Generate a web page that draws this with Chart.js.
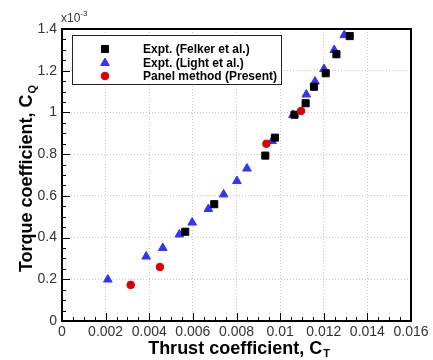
<!DOCTYPE html>
<html>
<head>
<meta charset="utf-8">
<script src="https://cdn.jsdelivr.net/npm/chart.js@4/dist/chart.umd.min.js"></script>
<style>
  html, body { margin: 0; padding: 0; background: #fff; }
  canvas { display: block; }
</style>
</head>
<body>
<canvas id="c" width="433" height="360"></canvas>
<script>
// ---- Data (CQ values in units of 1e-3) ----
const felkerCT = [0.00565, 0.00698, 0.00932, 0.00976, 0.01066, 0.01117, 0.01155, 0.01209, 0.01258, 0.01319];
const felkerCQ = [0.428, 0.560, 0.793, 0.879, 0.989, 1.044, 1.123, 1.188, 1.279, 1.366];

const lightCT = [0.00210, 0.00386, 0.00462, 0.00538, 0.00597, 0.00671, 0.00741, 0.00802, 0.00848, 0.00963, 0.01059, 0.01120, 0.01160, 0.01201, 0.01248, 0.01294];
const lightCQ = [0.199, 0.309, 0.350, 0.415, 0.472, 0.537, 0.607, 0.671, 0.731, 0.863, 0.988, 1.086, 1.148, 1.208, 1.299, 1.371];

const panelCT = [0.00315, 0.00449, 0.00937, 0.01096];
const panelCQ = [0.173, 0.259, 0.850, 1.007];

const seriesNames = ["Expt. (Felker et al.)", "Expt. (Light et al.)", "Panel method (Present)"];
const xTitle = "Thrust coefficient, C";
const xTitleSub = "T";
const yTitle = "Torque coefficient, C";
const yTitleSub = "Q";
const yMultiplier = "x10";
const yMultiplierExp = "-3";

const xMin = 0, xMax = 0.016, xStep = 0.002, xMinor = 0.0005;
const yMin = 0, yMax = 1.4, yStep = 0.2, yMinor = 0.05;

function pts(xs, ys) { return xs.map((x, i) => ({ x: x, y: ys[i] })); }
function fmt(v) { return String(parseFloat(Number(v).toFixed(6))); }

const FONT = "'Liberation Sans', Arial, sans-serif";

const frameAndExtras = {
  id: 'frameAndExtras',
  afterDraw(chart) {
    const ctx = chart.ctx;
    const a = chart.chartArea;
    const xs = chart.scales.x, ys = chart.scales.y;
    ctx.save();
    // inward ticks
    ctx.strokeStyle = '#000';
    ctx.lineWidth = 1;
    ctx.beginPath();
    const nX = Math.round((xMax - xMin) / xMinor);
    for (let i = 0; i <= nX; i++) {
      const v = xMin + i * xMinor;
      const px = Math.round(xs.getPixelForValue(v)) + 0.5;
      const major = (i % Math.round(xStep / xMinor)) === 0;
      const len = major ? 8 : 4;
      ctx.moveTo(px, a.bottom);
      ctx.lineTo(px, a.bottom - len);
    }
    const nY = Math.round((yMax - yMin) / yMinor);
    for (let i = 0; i <= nY; i++) {
      const v = yMin + i * yMinor;
      const py = Math.round(ys.getPixelForValue(v)) + 0.5;
      const major = (i % Math.round(yStep / yMinor)) === 0;
      const len = major ? 8 : 4;
      ctx.moveTo(a.left, py);
      ctx.lineTo(a.left + len, py);
    }
    ctx.stroke();
    // frame
    ctx.lineWidth = 2;
    ctx.strokeStyle = '#000';
    ctx.strokeRect(a.left, a.top, a.right - a.left, a.bottom - a.top);

    // multiplier label
    ctx.fillStyle = '#333';
    ctx.textBaseline = 'alphabetic';
    ctx.textAlign = 'left';
    ctx.font = '12px ' + FONT;
    ctx.fillText(yMultiplier, a.left - 1, 22);
    const mw = ctx.measureText(yMultiplier).width;
    ctx.font = '8px ' + FONT;
    ctx.fillText(yMultiplierExp, a.left - 1 + mw, 16);

    // x title
    ctx.fillStyle = '#000';
    ctx.font = 'bold 18px ' + FONT;
    const tw = ctx.measureText(xTitle).width;
    ctx.font = 'bold 11px ' + FONT;
    const sw = ctx.measureText(xTitleSub).width;
    const cx = (a.left + a.right) / 2 + 2;
    let sx = cx - (tw + sw) / 2;
    ctx.font = 'bold 18px ' + FONT;
    ctx.textBaseline = 'middle';
    ctx.fillText(xTitle, sx, 349);
    ctx.font = 'bold 11px ' + FONT;
    ctx.fillText(xTitleSub, sx + tw + 1, 354);

    // y title
    ctx.save();
    ctx.translate(27, (a.top + a.bottom) / 2 + 4);
    ctx.rotate(-Math.PI / 2);
    ctx.font = 'bold 18px ' + FONT;
    const yw = ctx.measureText(yTitle).width;
    ctx.font = 'bold 11px ' + FONT;
    const ysw = ctx.measureText(yTitleSub).width;
    let yx = -(yw + ysw) / 2;
    ctx.font = 'bold 18px ' + FONT;
    ctx.fillText(yTitle, yx, 0);
    ctx.font = 'bold 11px ' + FONT;
    ctx.fillText(yTitleSub, yx + yw + 1, 6);
    ctx.restore();

    // legend
    const lx = 72, ly = 35, lw = 209, lh = 49;
    ctx.fillStyle = '#fff';
    ctx.fillRect(lx, ly, lw, lh);
    ctx.lineWidth = 1;
    ctx.strokeStyle = '#222';
    ctx.strokeRect(lx + 0.5, ly + 0.5, lw, lh);
    const rows = [49, 63, 76];
    const dsOrder = [0, 1, 2];
    dsOrder.forEach((di, r) => {
      const ds = chart.data.datasets[di];
      const opts = {
        pointStyle: ds.pointStyle,
        radius: ds.pointRadius,
        rotation: 0,
        borderWidth: ds.borderWidth
      };
      ctx.fillStyle = ds.backgroundColor;
      ctx.strokeStyle = ds.borderColor;
      ctx.lineWidth = ds.borderWidth;
      Chart.helpers.drawPoint(ctx, opts, 105, rows[r]);
      ctx.fillStyle = '#000';
      ctx.font = 'bold 12px ' + FONT;
      ctx.textBaseline = 'middle';
      ctx.textAlign = 'left';
      ctx.fillText(seriesNames[di], 143, rows[r] + 0.5);
    });
    ctx.restore();
  }
};

new Chart(document.getElementById('c'), {
  type: 'scatter',
  data: {
    datasets: [
      {
        label: seriesNames[0], data: pts(felkerCT, felkerCQ),
        pointStyle: 'rect', pointRadius: 5, pointHoverRadius: 5,
        backgroundColor: '#000', borderColor: '#000', borderWidth: 1, order: 1
      },
      {
        label: seriesNames[1], data: pts(lightCT, lightCQ),
        pointStyle: 'triangle', pointRadius: 5, pointHoverRadius: 5,
        backgroundColor: '#3333ff', borderColor: '#3333ff', borderWidth: 1, order: 2
      },
      {
        label: seriesNames[2], data: pts(panelCT, panelCQ),
        pointStyle: 'circle', pointRadius: 3.8, pointHoverRadius: 3.8,
        backgroundColor: '#dd0000', borderColor: '#dd0000', borderWidth: 1, order: 0
      }
    ]
  },
  options: {
    responsive: false,
    animation: false,
    events: [],
    layout: { padding: { left: 0, top: 29, right: 22, bottom: 0 } },
    plugins: { legend: { display: false }, tooltip: { enabled: false } },
    scales: {
      x: {
        type: 'linear', min: xMin, max: xMax,
        afterFit(s) { s.height = 39; },
        ticks: {
          stepSize: xStep, padding: 3, color: '#333',
          font: { family: FONT, size: 14 },
          maxRotation: 0, autoSkip: false,
          callback: (v) => fmt(v)
        },
        grid: { color: '#c8c8c8', drawTicks: false, lineWidth: 1 },
        border: { display: false, dash: [1, 2] }
      },
      y: {
        type: 'linear', min: yMin, max: yMax,
        afterFit(s) { s.width = 62; },
        ticks: {
          stepSize: yStep, padding: 5, color: '#333',
          font: { family: FONT, size: 14 },
          autoSkip: false,
          callback: (v) => fmt(v)
        },
        grid: { color: '#c8c8c8', drawTicks: false, lineWidth: 1 },
        border: { display: false, dash: [1, 2] }
      }
    }
  },
  plugins: [frameAndExtras]
});
</script>
</body>
</html>
